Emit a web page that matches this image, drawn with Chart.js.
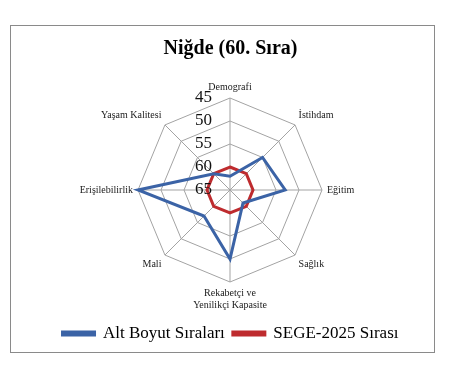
<!DOCTYPE html>
<html><head><meta charset="utf-8">
<script src="https://cdn.jsdelivr.net/npm/chart.js@4.4.1/dist/chart.umd.min.js"></script>
<style>
html,body{margin:0;padding:0;background:#fff;}
#frame{position:absolute;left:10px;top:25px;width:425px;height:328px;border:1px solid #8a8a8a;box-sizing:border-box;}
#c{position:absolute;left:0;top:0;}
</style></head>
<body>
<div id="frame"><canvas id="c" width="423" height="326"></canvas></div>
<script>
const categories = ['Demografi', 'İstihdam', 'Eğitim', 'Sağlık', ['Rekabetçi ve', 'Yenilikçi Kapasite'], 'Mali', 'Erişilebilirlik', 'Yaşam Kalitesi'];
const altBoyut = [62, 55, 53, 61, 50, 57, 45, 60];
const sege = [60, 60, 60, 60, 60, 60, 60, 60];
const tickValues = [65, 60, 55, 50, 45];
const titleText = 'Niğde (60. Sıra)';
const seriesNames = ['Alt Boyut Sıraları', 'SEGE-2025 Sırası'];

const blue = '#3b63a6';
const red = '#be2b2e';
const serif = '"Liberation Serif", "Times New Roman", serif';

const tickPlugin = {
  id: 'tickLabels',
  afterDraw(chart) {
    const s = chart.scales.r;
    const ctx = chart.ctx;
    ctx.save();
    ctx.font = '17px ' + serif;
    ctx.fillStyle = '#111';
    ctx.textAlign = 'right';
    ctx.textBaseline = 'middle';
    s.ticks.forEach(t => {
      const d = s.getDistanceFromCenterForValue(t.value);
      ctx.fillText(String(t.value), s.xCenter - 18, s.yCenter - d);
    });
    ctx.restore();
  }
};

new Chart(document.getElementById('c'), {
  type: 'radar',
  data: {
    labels: categories,
    datasets: [
      { label: seriesNames[0], data: altBoyut, borderColor: blue, backgroundColor: blue, borderWidth: 3, pointRadius: 0, fill: false, tension: 0 },
      { label: seriesNames[1], data: sege, borderColor: red, backgroundColor: red, borderWidth: 3, pointRadius: 0, fill: false, tension: 0 }
    ]
  },
  options: {
    responsive: false,
    animation: false,
    layout: { padding: { left: 16, right: 0, top: 0, bottom: 0 } },
    plugins: {
      title: { display: true, text: titleText, color: '#000', font: { family: serif, size: 20, weight: 'bold' }, padding: { top: 11, bottom: 14 } },
      legend: { position: 'bottom', labels: { color: '#000', font: { family: serif, size: 17 }, boxWidth: 32, boxHeight: 3, padding: 8 } },
      tooltip: { enabled: false }
    },
    scales: {
      r: {
        min: 45, max: 65, reverse: true,
        afterBuildTicks: (scale) => { scale.ticks = tickValues.map(v => ({ value: v })); },
        ticks: { display: false, stepSize: 5 },
        grid: { color: '#a3a3a3', lineWidth: 1 },
        angleLines: { color: '#a3a3a3', lineWidth: 1 },
        pointLabels: { color: '#1a1a1a', font: { family: serif, size: 10 }, padding: 5 }
      }
    }
  },
  plugins: [tickPlugin]
});
</script>
</body></html>
